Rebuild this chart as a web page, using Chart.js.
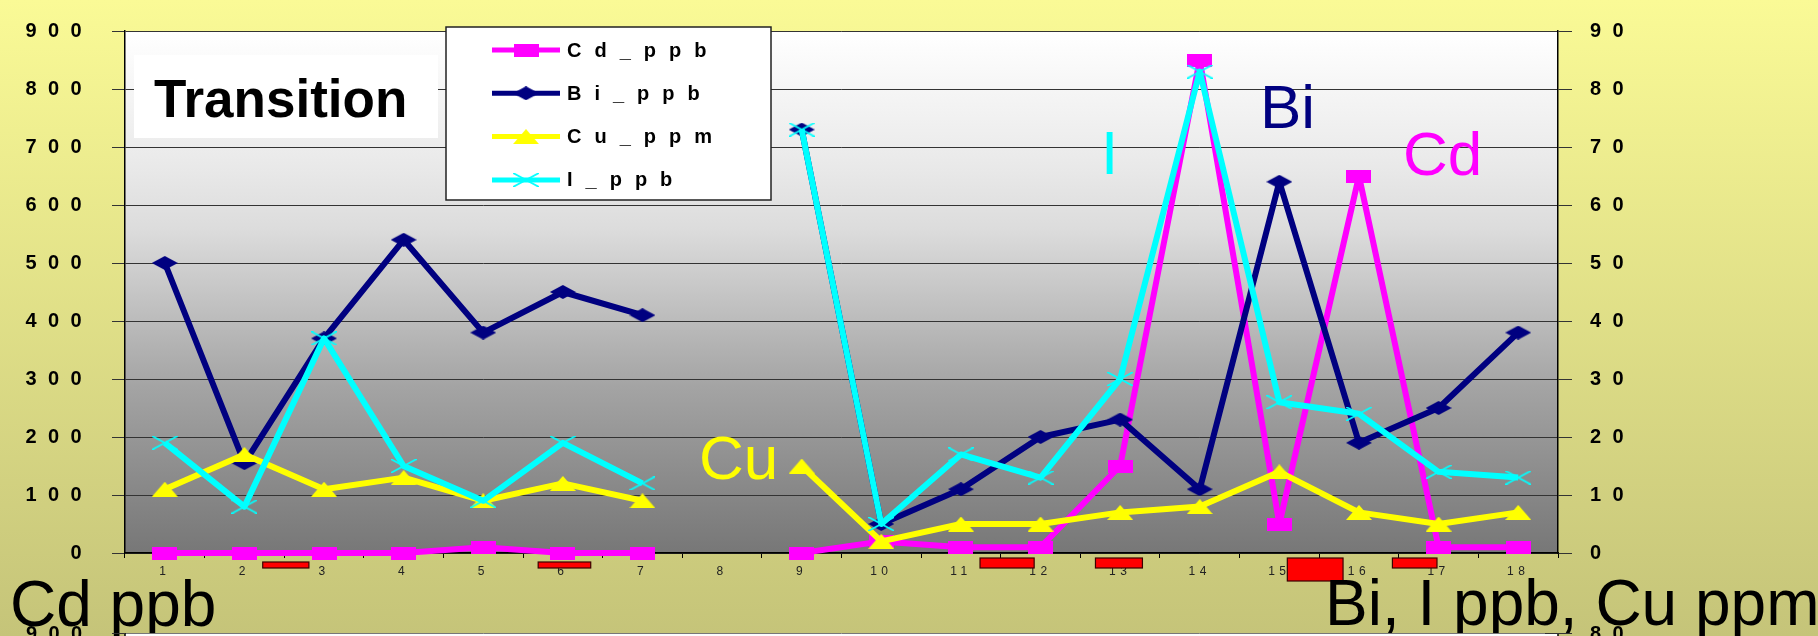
<!DOCTYPE html>
<html>
<head>
<meta charset="utf-8">
<script src="https://cdn.jsdelivr.net/npm/chart.js@4.4.1/dist/chart.umd.min.js"></script>
<style>
html,body{margin:0;padding:0;overflow:hidden;background:#fafa96;}
canvas{display:block;}
</style>
</head>
<body>
<canvas id="c" width="1818" height="636"></canvas>
<script>
// ---------- data ----------
const categories = ['1','2','3','4','5','6','7','8','9','10','11','12','13','14','15','16','17','18'];
const seriesLabels = ['Cd_ppb', 'Bi_ppb', 'Cu_ppm', 'I_ppb'];
const cdPpb = [0, 0, 0, 0, 10, 0, 0, null, 0, 20, 10, 10, 150, 850, 50, 650, 10, 10];      // left axis
const biPpb = [50, 15.5, 37, 54, 38, 45, 41, null, 73, 5, 11, 20, 23, 11, 64, 19, 25, 38];  // right axis
const cuPpm = [11, 17, 11, 13, 9, 12, 9, null, 15, 2, 5, 5, 7, 8, 14, 7, 5, 7];             // right axis
const iPpb  = [19, 8, 37, 15, 9, 19, 12, null, 73, 5, 17, 13, 30, 83, 26, 24, 14, 13];      // right axis
const leftTicks  = [0, 100, 200, 300, 400, 500, 600, 700, 800, 900];
const rightTicks = [0, 10, 20, 30, 40, 50, 60, 70, 80, 90];
// red interval bars under the x axis (in category units, 1-based)
const redBarStart = [2.23, 5.69, 11.24, 12.69, 15.10, 16.42];
const redBarEnd   = [2.81, 6.35, 11.92, 13.28, 15.80, 16.98];

// ---------- styles ----------
const FONT = "'Liberation Sans', Arial, sans-serif";
const redBarStyle = [{off:9,h:6},{off:9,h:6},{off:5,h:10},{off:5,h:10},{off:5,h:23},{off:5,h:10}];

function mk(w, h, draw) {
  const c = document.createElement('canvas');
  c.width = w; c.height = h;
  draw(c.getContext('2d'), w, h);
  return c;
}
const sqMark = mk(25, 13, (x, w, h) => { x.fillStyle = '#FF00FF'; x.fillRect(0, 0, w, h); });
const diaMark = mk(26, 14, (x, w, h) => {
  x.fillStyle = '#000080'; x.beginPath();
  x.moveTo(w/2, 0); x.lineTo(w, h/2); x.lineTo(w/2, h); x.lineTo(0, h/2); x.closePath(); x.fill();
});
const triMark = mk(26, 15, (x, w, h) => {
  x.fillStyle = '#FFFF00'; x.beginPath();
  x.moveTo(w/2, 0); x.lineTo(w, h); x.lineTo(0, h); x.closePath(); x.fill();
});
const xMark = mk(26, 14, (x, w, h) => {
  x.strokeStyle = '#00FFFF'; x.lineWidth = 1.8; x.beginPath();
  x.moveTo(0, 0); x.lineTo(w, h); x.moveTo(w, 0); x.lineTo(0, h); x.stroke();
});

const seriesColors = ['#FF00FF', '#000080', '#FFFF00', '#00FFFF'];
const seriesMarks = [sqMark, diaMark, triMark, xMark];

function patchSpacing(scale, ls) {
  if (!scale || scale._lsPatched) return;
  const orig = scale.drawLabels.bind(scale);
  scale.drawLabels = function (a) {
    const c = this.ctx; const prev = c.letterSpacing;
    c.letterSpacing = ls; orig(a); c.letterSpacing = prev;
  };
  scale._lsPatched = true;
}

const annotations = [
  {text: 'Cu', color: '#FFFF00', x: 699, y: 479},
  {text: 'I',  color: '#00FFFF', x: 1101, y: 174},
  {text: 'Bi', color: '#000080', x: 1260, y: 128},
  {text: 'Cd', color: '#FF00FF', x: 1403, y: 175}
];

const decor = {
  id: 'decor',
  beforeDraw(chart) {
    patchSpacing(chart.scales.y, '11.4px');
    patchSpacing(chart.scales.y1, '11.4px');
    patchSpacing(chart.scales.x, '4.5px');
    const {ctx, chartArea: a, width, height} = chart;
    ctx.save();
    let g = ctx.createLinearGradient(0, 0, 0, height);
    g.addColorStop(0, '#FAFA96');
    g.addColorStop(1, '#C5C479');
    ctx.fillStyle = g; ctx.fillRect(0, 0, width, height);
    g = ctx.createLinearGradient(0, a.top, 0, a.bottom);
    g.addColorStop(0, '#FFFFFF');
    g.addColorStop(0.25, '#EAEAEA');
    g.addColorStop(0.38, '#DCDCDC');
    g.addColorStop(0.68, '#A4A4A4');
    g.addColorStop(1, '#777777');
    ctx.fillStyle = g; ctx.fillRect(a.left, a.top, a.right - a.left, a.bottom - a.top);
    ctx.restore();
  },
  afterDraw(chart) {
    const {ctx, chartArea: a} = chart;
    const xs = chart.scales.x;
    ctx.save();
    ctx.letterSpacing = '0px';

    // "Transition" box
    ctx.fillStyle = '#FFFFFF';
    ctx.fillRect(134, 55, 304, 83);
    ctx.fillStyle = '#000000';
    ctx.font = 'bold 53px ' + FONT;
    ctx.textBaseline = 'alphabetic'; ctx.textAlign = 'left';
    ctx.fillText('Transition', 154, 117);

    // legend
    ctx.fillStyle = '#FFFFFF';
    ctx.fillRect(446, 27, 325, 173);
    ctx.strokeStyle = '#222'; ctx.lineWidth = 1.5;
    ctx.strokeRect(446, 27, 325, 173);
    chart.data.datasets.forEach((ds, i) => {
      const yy = 50 + i * 43.3;
      ctx.strokeStyle = ds.borderColor; ctx.lineWidth = 5;
      ctx.beginPath(); ctx.moveTo(492, yy); ctx.lineTo(560, yy); ctx.stroke();
      const m = ds.pointStyle;
      ctx.drawImage(m, 526 - m.width / 2, yy - m.height / 2);
      ctx.fillStyle = '#000';
      ctx.font = 'bold 20px ' + FONT;
      ctx.letterSpacing = '13px';
      ctx.textBaseline = 'middle';
      ctx.fillText(ds.label, 567, yy + 1);
      ctx.letterSpacing = '0px';
    });

    // series annotations
    ctx.textBaseline = 'alphabetic';
    ctx.font = '62px ' + FONT;
    annotations.forEach(t => { ctx.fillStyle = t.color; ctx.fillText(t.text, t.x, t.y); });

    // red interval bars
    redBarStart.forEach((s, i) => {
      const x0 = xs.getPixelForValue(s - 1), x1 = xs.getPixelForValue(redBarEnd[i] - 1);
      const st = redBarStyle[i];
      ctx.fillStyle = '#FF0000';
      ctx.fillRect(x0, a.bottom + st.off, x1 - x0, st.h);
      ctx.strokeStyle = '#3a0000'; ctx.lineWidth = 1.2;
      ctx.strokeRect(x0, a.bottom + st.off, x1 - x0, st.h);
    });

    // axis titles
    ctx.fillStyle = '#000';
    ctx.font = '64px ' + FONT;
    ctx.fillText('Cd ppb', 10, 626);
    ctx.fillText('Bi, I ppb, Cu ppm', 1325, 625);

    // top of the next chart (clipped by the page bottom)
    ctx.fillStyle = '#FDFDFD';
    ctx.fillRect(a.left, 633, a.right - a.left, 10);
    ctx.strokeStyle = '#777'; ctx.lineWidth = 1;
    ctx.beginPath(); ctx.moveTo(a.left, 633.5); ctx.lineTo(a.right, 633.5); ctx.stroke();
    ctx.strokeStyle = '#000'; ctx.lineWidth = 1.5;
    ctx.beginPath(); ctx.moveTo(a.left, 633); ctx.lineTo(a.left, 640); ctx.moveTo(a.right, 633); ctx.lineTo(a.right, 640); ctx.stroke();
    ctx.strokeStyle = '#333'; ctx.lineWidth = 1;
    ctx.beginPath(); ctx.moveTo(a.left - 13, 633.5); ctx.lineTo(a.left, 633.5);
    ctx.moveTo(a.right - 13, 633.5); ctx.lineTo(a.right + 14, 633.5); ctx.stroke();
    ctx.fillStyle = '#000';
    ctx.font = 'bold 20px ' + FONT;
    ctx.letterSpacing = '11.4px';
    ctx.textBaseline = 'middle';
    ctx.textAlign = 'right';
    ctx.fillText(String(leftTicks[leftTicks.length - 1]), 93.5, 634);
    ctx.textAlign = 'left';
    ctx.fillText(String(rightTicks[rightTicks.length - 2]), 1590, 634);
    ctx.restore();
  }
};

function tickSetter(arr) {
  return function (scale) { scale.ticks = arr.map(v => ({value: v})); };
}

new Chart(document.getElementById('c'), {
  type: 'line',
  data: {
    labels: categories,
    datasets: [
      {label: seriesLabels[0], data: cdPpb, yAxisID: 'y',  borderColor: seriesColors[0], backgroundColor: seriesColors[0], pointStyle: seriesMarks[0], order: 3},
      {label: seriesLabels[1], data: biPpb, yAxisID: 'y1', borderColor: seriesColors[1], backgroundColor: seriesColors[1], pointStyle: seriesMarks[1], order: 2},
      {label: seriesLabels[2], data: cuPpm, yAxisID: 'y1', borderColor: seriesColors[2], backgroundColor: seriesColors[2], pointStyle: seriesMarks[2], order: 1},
      {label: seriesLabels[3], data: iPpb,  yAxisID: 'y1', borderColor: seriesColors[3], backgroundColor: seriesColors[3], pointStyle: seriesMarks[3], order: 0}
    ].map(d => Object.assign(d, {borderWidth: 6, pointRadius: 7, pointHoverRadius: 7, tension: 0, borderJoinStyle: 'round', clip: false, spanGaps: false}))
  },
  options: {
    responsive: false,
    animation: false,
    devicePixelRatio: 1,
    events: [],
    layout: {padding: {top: 19, left: 0, right: 0, bottom: 0}},
    plugins: {legend: {display: false}, tooltip: {enabled: false}, title: {display: false}},
    scales: {
      x: {
        type: 'category', offset: true,
        grid: {offset: true, drawOnChartArea: false, tickLength: 5, color: '#000', tickWidth: 1},
        border: {color: '#000', width: 1.5},
        ticks: {font: {family: FONT, size: 12}, color: '#222', padding: 6, maxRotation: 0, autoSkip: false},
        afterFit(s) { s.height = 83; }
      },
      y: {
        position: 'left', min: 0, max: 900,
        afterBuildTicks: tickSetter(leftTicks),
        ticks: {font: {family: FONT, size: 20, weight: 'bold'}, color: '#000', padding: 19},
        grid: {color: '#333', lineWidth: 1, tickLength: 13, tickColor: '#333'},
        border: {color: '#000', width: 1.5},
        afterFit(s) { s.width = 125; }
      },
      y1: {
        position: 'right', min: 0, max: 90,
        afterBuildTicks: tickSetter(rightTicks),
        ticks: {font: {family: FONT, size: 20, weight: 'bold'}, color: '#000', padding: 18},
        grid: {drawOnChartArea: false, tickLength: 14, color: '#333'},
        border: {color: '#000', width: 1.5},
        afterFit(s) { s.width = 260; }
      }
    }
  },
  plugins: [decor]
});
</script>
</body>
</html>
